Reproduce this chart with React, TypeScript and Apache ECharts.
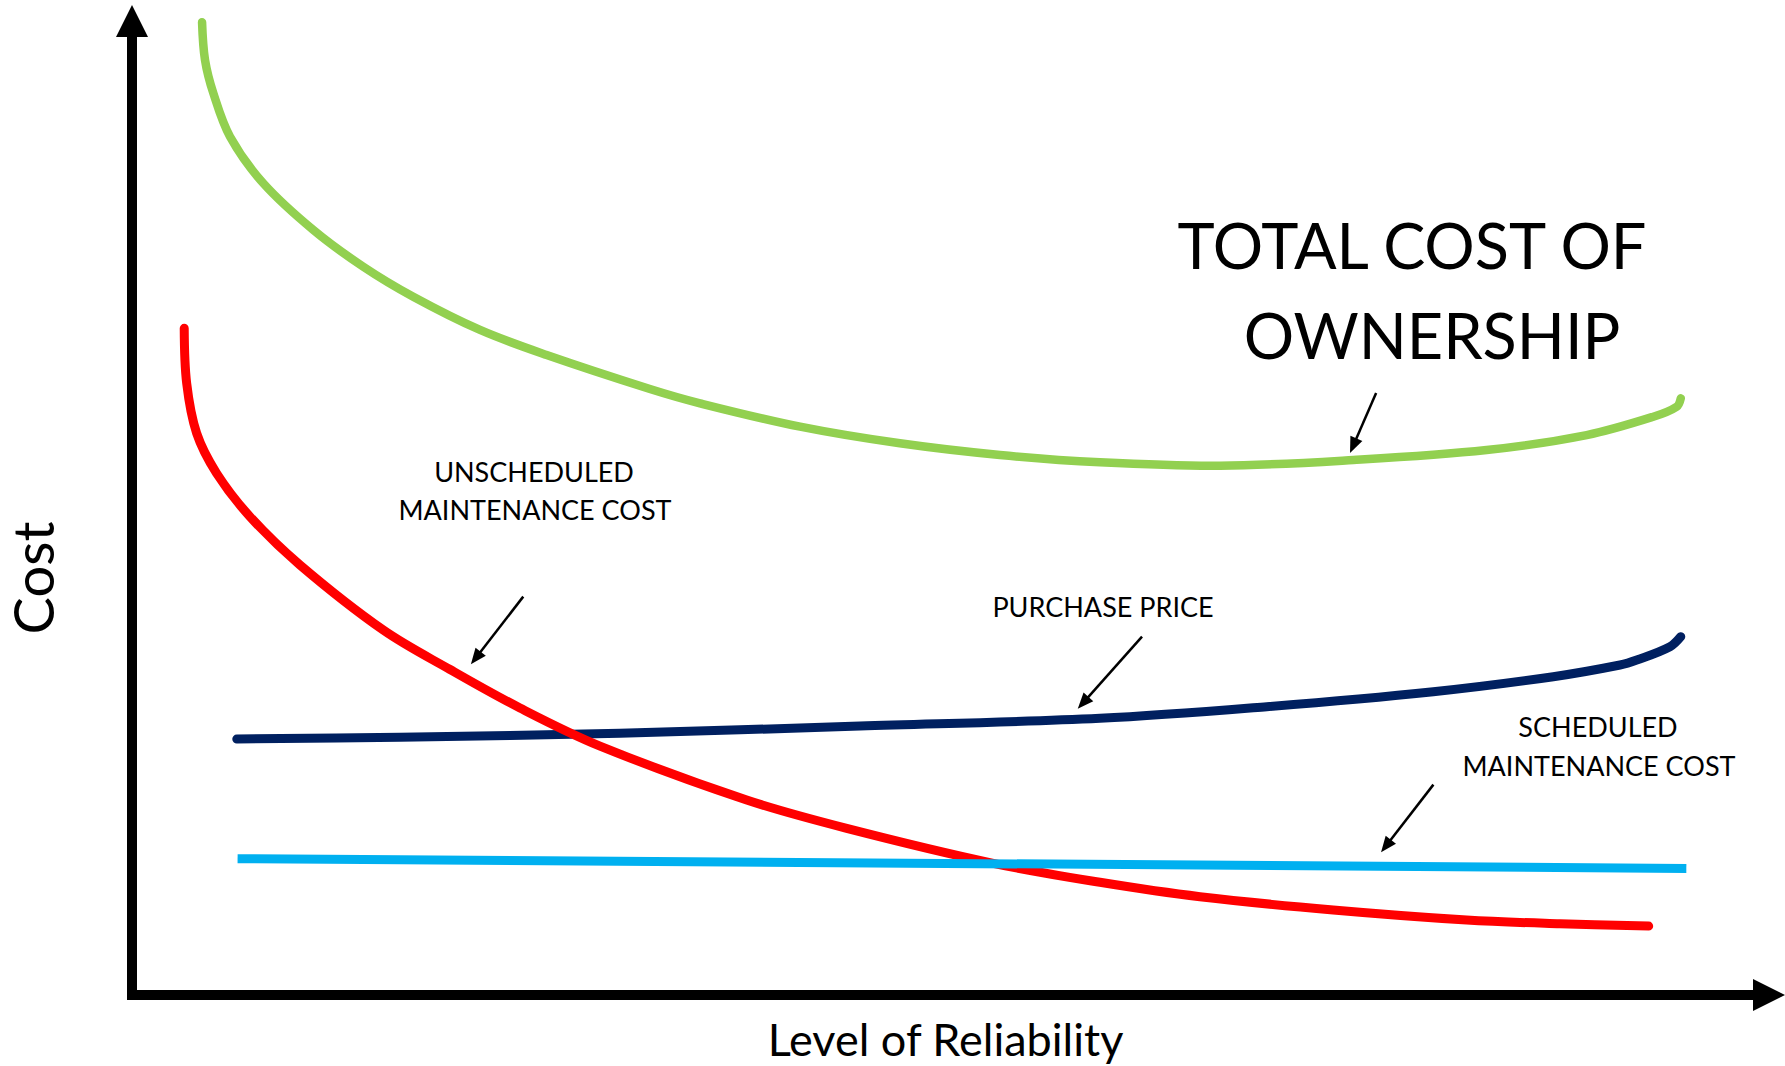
import React, { useEffect, useRef } from "react";
import * as echarts from "echarts";

// ---- axis titles ----
const xAxisName = "Level of Reliability";
const yAxisName = "Cost";

// ---- curves: [level of reliability, cost] (arbitrary 0-100 units) ----
const totalCostOfOwnership: [number, number][] = [
  [4.28, 99.87], [4.46, 96.0], [4.97, 92.58], [5.99, 88.12], [8.02, 83.34], [11.08, 78.54],
  [14.13, 74.77], [17.18, 71.69], [21.26, 68.28], [25.33, 65.71], [31.64, 62.22], [34.7, 60.75],
  [40.81, 58.35], [46.91, 56.64], [53.02, 55.44], [59.13, 54.69], [66.46, 54.34], [74.61, 54.93],
  [82.75, 55.95], [88.86, 57.49], [92.93, 59.37], [94.36, 60.4], [94.61, 61.26],
];

const unscheduledMaintenanceCost: [number, number][] = [
  [3.19, 68.45], [3.34, 62.8], [3.95, 57.67], [5.17, 53.56], [7.21, 49.11], [10.26, 44.15],
  [15.35, 37.47], [19.43, 33.42], [23.7, 29.47], [28.59, 25.56], [37.55, 20.02], [43.66, 17.11],
  [52.61, 13.52], [59.13, 11.57], [65.24, 10.09], [73.38, 8.73], [81.53, 7.7], [87.23, 7.31],
  [92.65, 7.08],
];

const purchasePrice: [number, number][] = [
  [6.4, 26.28], [16.37, 26.46], [29.81, 26.87], [44.47, 27.62], [59.13, 28.41], [69.32, 29.6],
  [79.49, 31.14], [86.82, 32.68], [90.9, 33.88], [91.92, 34.39], [93.95, 35.76], [94.61, 36.79],
];

const scheduledMaintenanceCost: [number, number][] = [
  [6.45, 14.0], [94.95, 13.0],
];

// ---- annotation arrows: [fromX, fromY, toX, toY] in data units ----
const annotationArrows: [number, number, number, number][] = [
  [76.0, 61.8, 74.6, 56.4],
  [23.9, 40.9, 21.0, 34.6],
  [61.7, 36.8, 58.1, 30.0],
  [79.5, 21.6, 76.6, 15.3],
];

// ---- annotation labels ----
const labelTexts = [
  "TOTAL COST OF",
  "OWNERSHIP",
  "UNSCHEDULED",
  "MAINTENANCE COST",
  "PURCHASE PRICE",
  "SCHEDULED",
  "MAINTENANCE COST",
];
const labelLayout = [
  { x: 1412, y: 244, size: 63 },
  { x: 1432, y: 334, size: 63 },
  { x: 534, y: 471, size: 27 },
  { x: 535, y: 509, size: 27 },
  { x: 1103, y: 606, size: 27 },
  { x: 1598, y: 726, size: 27 },
  { x: 1599, y: 765, size: 27 },
];

const FONT = "Lato";

export default function App() {
  const ref = useRef<HTMLDivElement>(null);

  useEffect(() => {
    if (!ref.current) return;
    const chart = echarts.init(ref.current, undefined, { renderer: "svg" });

    // smooth curve through all the data points, positioned by the cartesian axes
    const smoothCurve = (name: string, data: [number, number][], color: string, width: number) => ({
      type: "custom",
      name,
      data,
      silent: true,
      clip: false,
      encode: { x: 0, y: 1 },
      renderItem: (params: any, api: any) => {
        if (params.dataIndexInside !== 0) return null;
        const pts: number[][] = [];
        for (let i = 0; i < params.dataInsideLength; i++) {
          pts.push(api.coord([api.value(0, i), api.value(1, i)]));
        }
        return {
          type: "polyline",
          shape: { points: pts, smooth: 0.35 },
          style: { stroke: color, lineWidth: width, fill: null, lineCap: "round", lineJoin: "round" },
        };
      },
    });

    const option: any = {
      animation: false,
      backgroundColor: "#ffffff",
      grid: {
        left: 132,
        right: 16,
        top: 21,
        bottom: 71,
        containLabel: false,
        outerBoundsMode: "none",
      },
      xAxis: {
        type: "value",
        min: 0,
        max: 100,
        name: xAxisName,
        nameLocation: "middle",
        nameGap: 21,
        nameTextStyle: { fontFamily: FONT, fontSize: 45, color: "#000", padding: [0, 10, 0, 0] },
        axisLine: {
          show: true,
          onZero: false,
          symbol: ["none", "triangle"],
          symbolSize: [32, 32],
          lineStyle: { color: "#000", width: 10, cap: "square" },
        },
        axisTick: { show: false },
        axisLabel: { show: false },
        splitLine: { show: false },
      },
      yAxis: {
        type: "value",
        min: 0,
        max: 100,
        name: yAxisName,
        nameLocation: "middle",
        nameGap: 72,
        nameTextStyle: { fontFamily: FONT, fontSize: 56, color: "#000", padding: [0, 140, 0, 0] },
        axisLine: {
          show: true,
          onZero: false,
          symbol: ["none", "triangle"],
          symbolSize: [32, 32],
          lineStyle: { color: "#000", width: 10, cap: "square" },
        },
        axisTick: { show: false },
        axisLabel: { show: false },
        splitLine: { show: false },
      },
      series: [
        smoothCurve("Purchase price", purchasePrice, "#002060", 9),
        smoothCurve("Unscheduled maintenance cost", unscheduledMaintenanceCost, "#FF0000", 9),
        {
          type: "line",
          name: "Scheduled maintenance cost",
          data: scheduledMaintenanceCost,
          showSymbol: false,
          symbol: "none",
          clip: false,
          silent: true,
          itemStyle: { color: "#00B0F0" },
          lineStyle: { color: "#00B0F0", width: 9, cap: "butt" },
          emphasis: { disabled: true },
        },
        smoothCurve("Total cost of ownership", totalCostOfOwnership, "#92D050", 8.5),
        {
          type: "line",
          name: "annotations",
          data: [],
          silent: true,
          markLine: {
            silent: true,
            animation: false,
            symbol: ["none", "triangle"],
            symbolSize: 15,
            label: { show: false },
            emphasis: { disabled: true },
            lineStyle: { color: "#000", width: 2.5, type: "solid" },
            data: annotationArrows.map(([x1, y1, x2, y2]) => [
              { coord: [x1, y1], symbol: "none" },
              { coord: [x2, y2], symbol: "triangle", symbolSize: [13, 16] },
            ]),
          },
        },
      ],
      graphic: labelTexts.map((text, i) => ({
        type: "text",
        x: labelLayout[i].x,
        y: labelLayout[i].y,
        silent: true,
        style: {
          text,
          font: `${labelLayout[i].size}px ${FONT}`,
          fill: "#000",
          align: "center",
          verticalAlign: "middle",
          textAlign: "center",
          textVerticalAlign: "middle",
        },
      })),
    };

    chart.setOption(option);
    return () => {
      chart.dispose();
    };
  }, []);

  return (
    <div
      ref={ref}
      style={{ position: "absolute", left: 0, top: 0, width: 1785, height: 1066, background: "#fff" }}
    />
  );
}
